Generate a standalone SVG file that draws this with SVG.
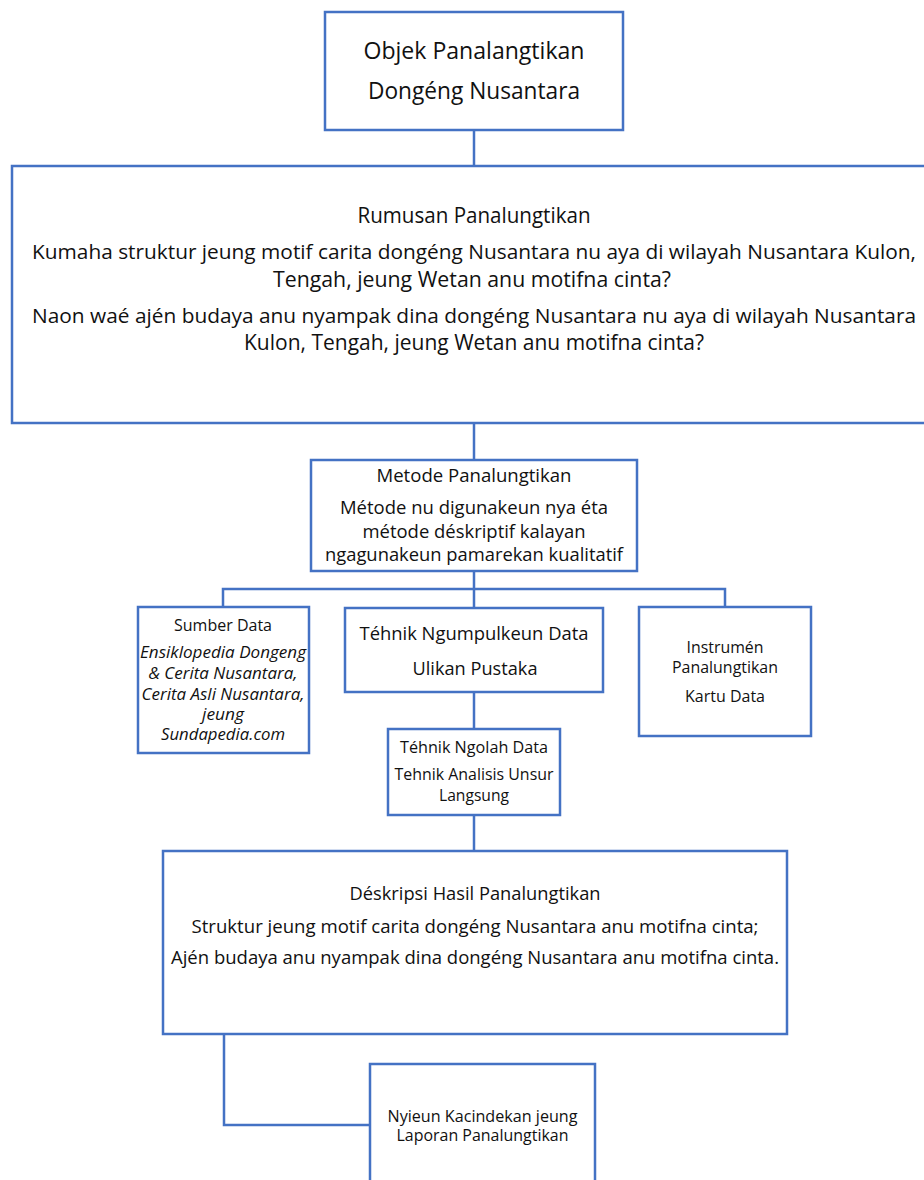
<svg xmlns="http://www.w3.org/2000/svg" width="924" height="1180" viewBox="0 0 924 1180">
<style>
.box{fill:#ffffff;stroke:#4472C4;stroke-width:2.5}
.con{fill:none;stroke:#4472C4;stroke-width:2.5}
text{font-family:"Open Sans","Noto Sans",sans-serif;fill:#111111;text-anchor:middle}
.f23{font-size:23.4px}
.f21{font-size:21.6px}
.f20{font-size:20.5px}
.f19{font-size:19px}
.f17{font-size:16.6px}
.f16{font-size:15.8px}
.it{font-style:italic}
</style>
<rect x="0" y="0" width="924" height="1180" fill="#ffffff"/>
<g id="connectors">
<path class="con" d="M474 130V166"/>
<path class="con" d="M474 423V460"/>
<path class="con" d="M474 571V608M223 607V589H725V607"/>
<path class="con" d="M474 692V729"/>
<path class="con" d="M474 815V851"/>
<path class="con" d="M224 1034V1125H370"/>
</g>
<g id="objek">
<rect class="box" x="325" y="12" width="298" height="118"/>
<text class="f23" x="474" y="59" textLength="221" lengthAdjust="spacingAndGlyphs">Objek Panalangtikan</text>
<text class="f23" x="474" y="99" textLength="212" lengthAdjust="spacingAndGlyphs">Dongéng Nusantara</text>
</g>
<g id="rumusan">
<rect class="box" x="12" y="166" width="930" height="257"/>
<text class="f21" x="474" y="223" textLength="233" lengthAdjust="spacingAndGlyphs">Rumusan Panalungtikan</text>
<text class="f20" x="474" y="259" textLength="884" lengthAdjust="spacingAndGlyphs">Kumaha struktur jeung motif carita dongéng Nusantara nu aya di wilayah Nusantara Kulon,</text>
<text class="f21" x="472" y="287" textLength="398" lengthAdjust="spacingAndGlyphs">Tengah, jeung Wetan anu motifna cinta?</text>
<text class="f20" x="474" y="323" textLength="884" lengthAdjust="spacingAndGlyphs">Naon waé ajén budaya anu nyampak dina dongéng Nusantara nu aya di wilayah Nusantara</text>
<text class="f21" x="474" y="350" textLength="460" lengthAdjust="spacingAndGlyphs">Kulon, Tengah, jeung Wetan anu motifna cinta?</text>
</g>
<g id="metode">
<rect class="box" x="311" y="460" width="326" height="111"/>
<text class="f19" x="474" y="482" textLength="195" lengthAdjust="spacingAndGlyphs">Metode Panalungtikan</text>
<text class="f19" x="474" y="514" textLength="268" lengthAdjust="spacingAndGlyphs">Métode nu digunakeun nya éta</text>
<text class="f19" x="474" y="538" textLength="223" lengthAdjust="spacingAndGlyphs">métode déskriptif kalayan</text>
<text class="f19" x="474" y="561" textLength="298" lengthAdjust="spacingAndGlyphs">ngagunakeun pamarekan kualitatif</text>
</g>
<g id="sumber">
<rect class="box" x="138" y="607" width="171" height="146"/>
<text class="f17" x="223" y="631" textLength="98" lengthAdjust="spacingAndGlyphs">Sumber Data</text>
<text class="f16 it" x="223" y="658" textLength="166" lengthAdjust="spacingAndGlyphs">Ensiklopedia Dongeng</text>
<text class="f16 it" x="223" y="679" textLength="149" lengthAdjust="spacingAndGlyphs">&amp; Cerita Nusantara,</text>
<text class="f16 it" x="223" y="700" textLength="163" lengthAdjust="spacingAndGlyphs">Cerita Asli Nusantara,</text>
<text class="f16 it" x="223" y="720" textLength="42" lengthAdjust="spacingAndGlyphs">jeung</text>
<text class="f16 it" x="223" y="740" textLength="124" lengthAdjust="spacingAndGlyphs">Sundapedia.com</text>
</g>
<g id="ngumpulkeun">
<rect class="box" x="345" y="608" width="258" height="84"/>
<text class="f19" x="474" y="640" textLength="229" lengthAdjust="spacingAndGlyphs">Téhnik Ngumpulkeun Data</text>
<text class="f19" x="475" y="675" textLength="125" lengthAdjust="spacingAndGlyphs">Ulikan Pustaka</text>
</g>
<g id="instrumen">
<rect class="box" x="639" y="607" width="172" height="129"/>
<text class="f17" x="725" y="653" textLength="77" lengthAdjust="spacingAndGlyphs">Instrumén</text>
<text class="f17" x="725" y="673" textLength="106" lengthAdjust="spacingAndGlyphs">Panalungtikan</text>
<text class="f17" x="725" y="702" textLength="80" lengthAdjust="spacingAndGlyphs">Kartu Data</text>
</g>
<g id="ngolah">
<rect class="box" x="388" y="729" width="172" height="86"/>
<text class="f17" x="474" y="753" textLength="148" lengthAdjust="spacingAndGlyphs">Téhnik Ngolah Data</text>
<text class="f17" x="474" y="780" textLength="159" lengthAdjust="spacingAndGlyphs">Tehnik Analisis Unsur</text>
<text class="f17" x="474" y="801" textLength="70" lengthAdjust="spacingAndGlyphs">Langsung</text>
</g>
<g id="deskripsi">
<rect class="box" x="163" y="851" width="624" height="183"/>
<text class="f19" x="475" y="900" textLength="251" lengthAdjust="spacingAndGlyphs">Déskripsi Hasil Panalungtikan</text>
<text class="f19" x="475" y="933" textLength="567" lengthAdjust="spacingAndGlyphs">Struktur jeung motif carita dongéng Nusantara anu motifna cinta;</text>
<text class="f19" x="475" y="964" textLength="608" lengthAdjust="spacingAndGlyphs">Ajén budaya anu nyampak dina dongéng Nusantara anu motifna cinta.</text>
</g>
<g id="nyieun">
<rect class="box" x="370" y="1064" width="225" height="140"/>
<text class="f16" x="482.5" y="1122" textLength="190" lengthAdjust="spacingAndGlyphs">Nyieun Kacindekan jeung</text>
<text class="f16" x="482.5" y="1141" textLength="172" lengthAdjust="spacingAndGlyphs">Laporan Panalungtikan</text>
</g>
</svg>
